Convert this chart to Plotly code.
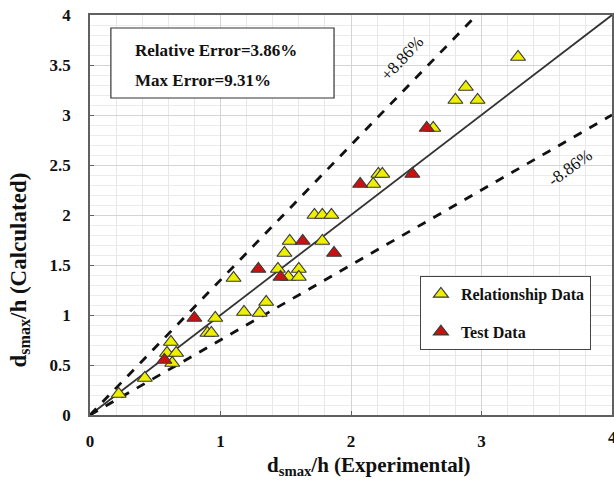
import plotly.graph_objects as go

# Relationship data (experimental, calculated)
rel_x = [0.22, 0.42, 0.59, 0.66, 0.62, 0.63, 0.90, 0.93, 0.96, 1.10, 1.18, 1.30, 1.35,
         1.44, 1.49, 1.52, 1.53, 1.60, 1.60, 1.72, 1.78, 1.85, 1.78, 2.17, 2.21, 2.24,
         2.63, 2.80, 2.88, 2.97, 3.28]
rel_y = [0.21, 0.37, 0.62, 0.62, 0.73, 0.52, 0.82, 0.82, 0.97, 1.37, 1.03, 1.02, 1.13,
         1.46, 1.62, 1.38, 1.74, 1.46, 1.38, 2.00, 2.00, 2.00, 1.74, 2.31, 2.41, 2.41,
         2.87, 3.15, 3.28, 3.15, 3.58]
# Test data
test_x = [0.57, 0.80, 1.29, 1.46, 1.63, 1.87, 2.07, 2.47, 2.58]
test_y = [0.55, 0.97, 1.46, 1.38, 1.74, 1.62, 2.31, 2.41, 2.87]

# Reference lines (slopes)
slope_upper = 1.35
slope_lower = 0.75
axis_max = 4.0

serif = "Liberation Serif, Times New Roman, serif"

fig = go.Figure()

# y = x line
fig.add_trace(go.Scatter(x=[0, axis_max], y=[0, axis_max], mode="lines",
                         line=dict(color="#333333", width=1.8), showlegend=False, hoverinfo="skip"))
# upper bound
fig.add_trace(go.Scatter(x=[0, axis_max / slope_upper], y=[0, axis_max], mode="lines",
                         line=dict(color="#111111", width=2.8, dash="dash"), showlegend=False, hoverinfo="skip"))
# lower bound
fig.add_trace(go.Scatter(x=[0, axis_max], y=[0, axis_max * slope_lower], mode="lines",
                         line=dict(color="#111111", width=2.8, dash="dash"), showlegend=False, hoverinfo="skip"))

fig.add_trace(go.Scatter(x=rel_x, y=rel_y, mode="markers", name="Relationship Data",
                         marker=dict(symbol="triangle-up", size=13, color="#eef000",
                                     line=dict(color="#3a3a3a", width=1.2)),
                         legendgroup="a"))
fig.add_trace(go.Scatter(x=test_x, y=test_y, mode="markers", name="Test Data",
                         marker=dict(symbol="triangle-up", size=13, color="#cc1010",
                                     line=dict(color="#3a3a3a", width=1.2)),
                         legendgroup="b"))

axis_common = dict(
    range=[0, axis_max], showline=True, linecolor="#606060", linewidth=1.5, mirror=True,
    showgrid=True, gridcolor="#d4d4d4", gridwidth=1, zeroline=False,
    ticks="inside", ticklen=4, tickcolor="#606060",
    tickfont=dict(family=serif, size=17, color="#111111", weight="bold"),
    automargin=False,
)

fig.update_xaxes(**axis_common, dtick=1, ticklabelstandoff=10,
                 minor=dict(dtick=0.2, showgrid=True, gridcolor="#e8e8e8", gridwidth=1))
fig.update_yaxes(**axis_common, dtick=0.5, ticklabelstandoff=14,
                 minor=dict(dtick=0.1, showgrid=True, gridcolor="#ebebeb", gridwidth=1))

# last x tick label (at the right edge)
fig.add_annotation(x=axis_max, y=-0.055, xref="x", yref="paper", showarrow=False,
                   yanchor="middle", xanchor="center",
                   text="4", font=dict(family=serif, size=17, color="#111111", weight="bold"))

# Text box
fig.add_shape(type="rect", xref="x", yref="y", x0=0.16, x1=1.87, y0=3.17, y1=3.87,
              line=dict(color="#333333", width=1.2), fillcolor="white", layer="above")
fig.add_annotation(x=0.33, y=3.65, xref="x", yref="y", xanchor="left", showarrow=False,
                   text="Relative Error=3.86%", font=dict(family=serif, size=17, color="#111111", weight="bold"))
fig.add_annotation(x=0.33, y=3.35, xref="x", yref="y", xanchor="left", showarrow=False,
                   text="Max Error=9.31%", font=dict(family=serif, size=17, color="#111111", weight="bold"))

# Bound labels
fig.add_annotation(x=2.39, y=3.57, xref="x", yref="y", showarrow=False, textangle=-47,
                   text="+8.86%", font=dict(family=serif, size=17, color="#111111"))
fig.add_annotation(x=3.68, y=2.48, xref="x", yref="y", showarrow=False, textangle=-36,
                   text="-8.86%", font=dict(family=serif, size=17, color="#111111"))

# Axis titles
fig.add_annotation(x=(369 - 90.5) / 521.5, y=-0.128, xref="paper", yref="paper", showarrow=False,
                   yanchor="middle",
                   text="d<sub>smax</sub>/h (Experimental)",
                   font=dict(family=serif, size=21, color="#111111", weight="bold"))
fig.add_annotation(x=-0.135, y=(415 - 270) / 400, xref="paper", yref="paper", showarrow=False,
                   xanchor="center", textangle=-90,
                   text="d<sub>smax</sub>/h (Calculated)",
                   font=dict(family=serif, size=23, color="#111111", weight="bold"))

fig.update_layout(
    width=614, height=483,
    margin=dict(l=90, r=2, t=15, b=68),
    paper_bgcolor="white", plot_bgcolor="white",
    showlegend=True,
    legend=dict(x=0.632, y=0.3475, xanchor="left", yanchor="top",
                bordercolor="#444444", borderwidth=1, bgcolor="white",
                font=dict(family=serif, size=16, color="#111111", weight="bold"),
                tracegroupgap=14, traceorder="grouped",
                itemwidth=30),
)

fig.write_html("out.html", config={"displayModeBar": False},
               post_script="document.body.style.margin='0';document.body.style.overflow='hidden';")
